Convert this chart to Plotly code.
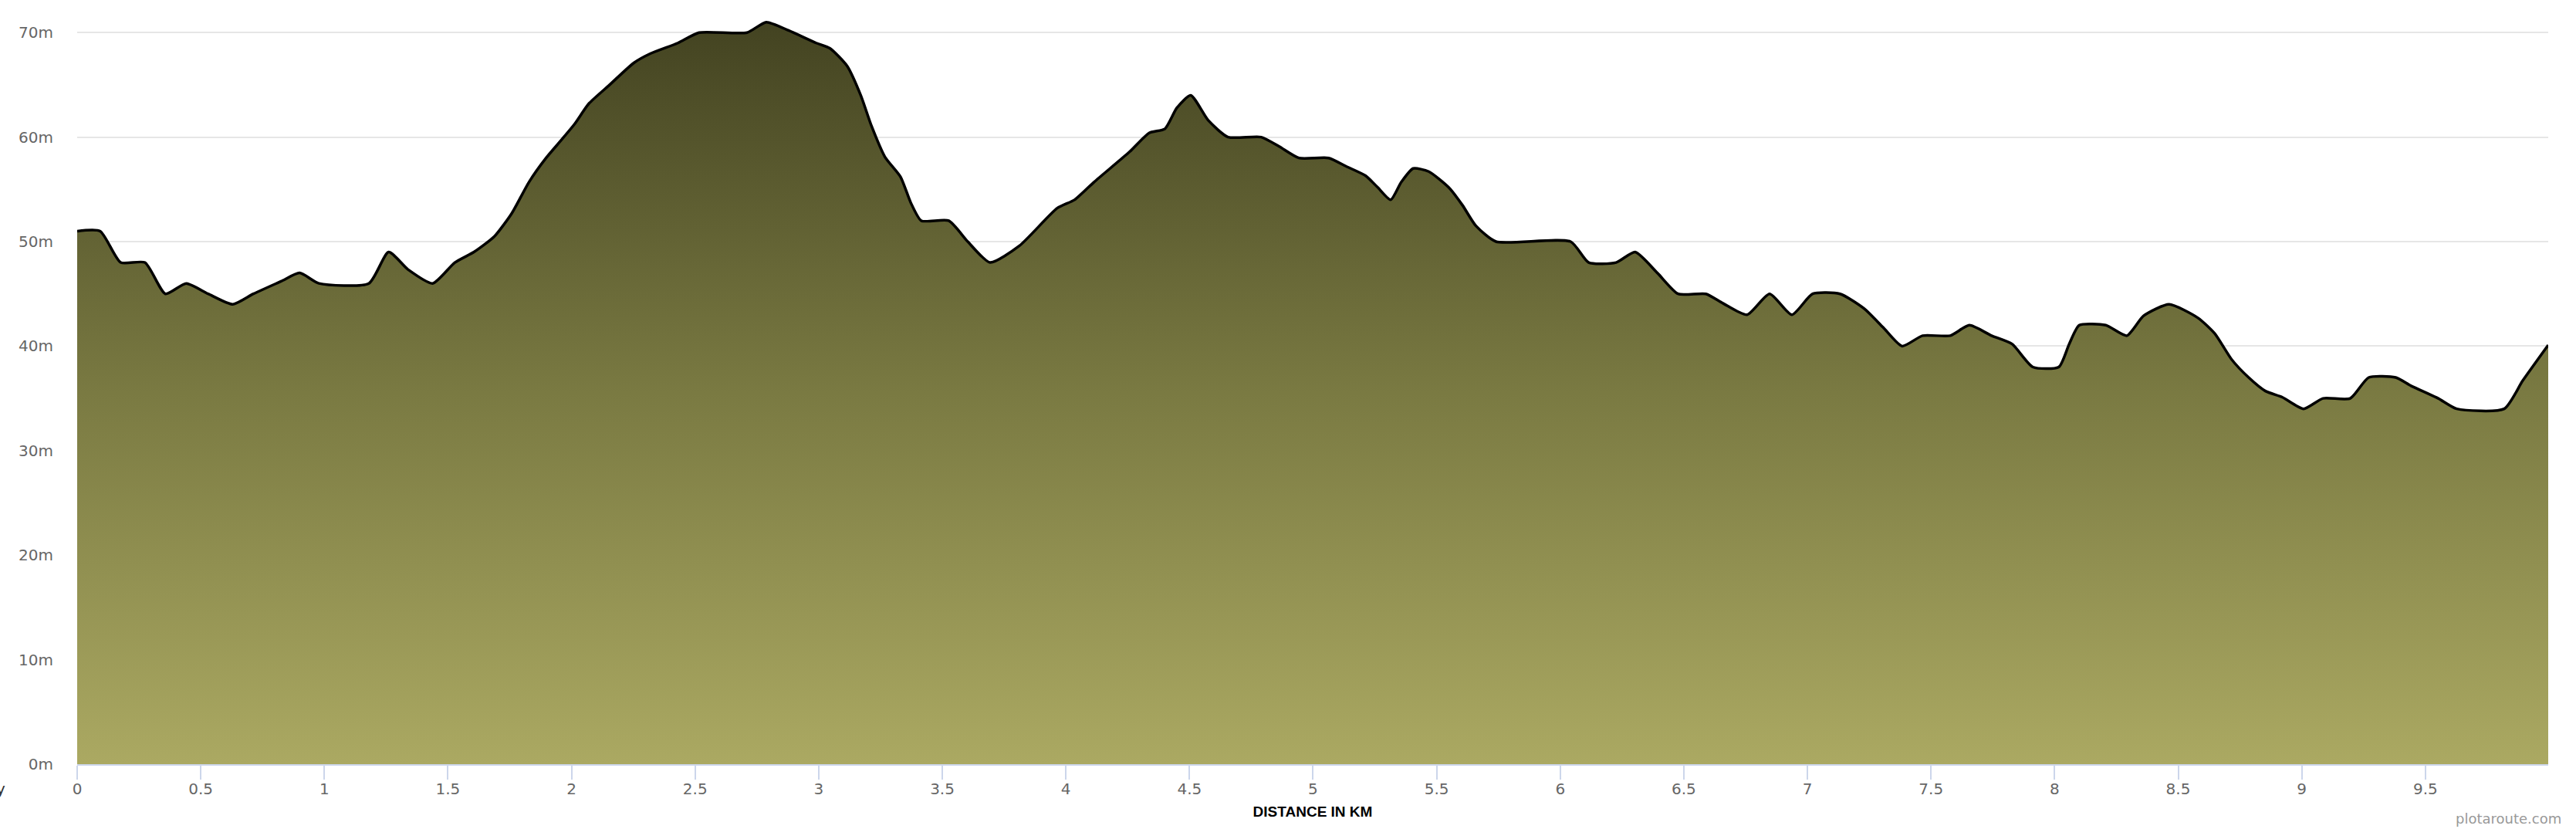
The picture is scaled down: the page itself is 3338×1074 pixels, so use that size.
import plotly.graph_objects as go

distance_km = [
    0.0, 0.093, 0.176, 0.274, 0.357, 0.441, 0.53, 0.63, 0.713, 0.825, 0.90, 0.978,
    1.18, 1.26, 1.34, 1.438, 1.528, 1.605, 1.688, 1.758, 1.828, 1.897, 1.958,
    2.014, 2.07, 2.154, 2.252, 2.32, 2.43, 2.516, 2.71, 2.788, 2.878, 2.99,
    3.045, 3.115, 3.17, 3.213, 3.268, 3.331, 3.373, 3.415, 3.526, 3.603, 3.693,
    3.812, 3.965, 4.035, 4.114, 4.258, 4.337, 4.401, 4.449, 4.505, 4.576, 4.656,
    4.79, 4.863, 4.943, 5.063, 5.134, 5.213, 5.261, 5.314, 5.357, 5.405, 5.468,
    5.548, 5.604, 5.659, 5.74, 6.042, 6.115, 6.226, 6.303, 6.393, 6.477, 6.589,
    6.658, 6.756, 6.847, 6.937, 7.021, 7.132, 7.229, 7.306, 7.383, 7.466, 7.578,
    7.655, 7.745, 7.828, 7.912, 8.017, 8.059, 8.1, 8.207, 8.292, 8.36, 8.463,
    8.58, 8.648, 8.717, 8.785, 8.853, 8.922, 9.007, 9.086, 9.196, 9.271, 9.38,
    9.442, 9.552, 9.627, 9.819, 9.894, 9.997,
]
elevation_m = [
    51, 51, 48, 48, 45, 46, 45, 44, 45, 46.2, 47, 46,
    46, 49, 47.3, 46, 48, 49, 50.5, 52.7, 55.7, 58, 59.7,
    61.3, 63.2, 65, 67.1, 68, 69, 70, 70, 71, 70.2, 69,
    68.5, 66.8, 64, 61.1, 58.1, 56.2, 53.7, 52, 52, 50, 48,
    49.6, 53.2, 54, 55.7, 58.6, 60.4, 60.8, 62.8, 64, 61.6, 60,
    60, 59.1, 58, 58, 57.2, 56.3, 55.2, 54, 55.7, 57, 56.7,
    55.2, 53.5, 51.5, 50, 50, 48, 48, 49, 47, 45, 45,
    44.1, 43, 45, 43, 45, 45, 43.6, 41.8, 40, 41, 41,
    42, 41, 40.2, 38, 38, 40.2, 42, 42, 41, 42.9, 44,
    42.7, 41.2, 38.7, 37, 35.7, 35.1, 34, 35, 35, 37, 37,
    36.2, 35, 34, 34, 36.7, 40.1,
]

y_tick_values = [0, 10, 20, 30, 40, 50, 60, 70]
y_tick_labels = ["0m", "10m", "20m", "30m", "40m", "50m", "60m", "70m"]
x_tick_values = [0, 0.5, 1, 1.5, 2, 2.5, 3, 3.5, 4, 4.5, 5, 5.5, 6, 6.5, 7, 7.5, 8, 8.5, 9, 9.5]
x_tick_labels = ["0", "0.5", "1", "1.5", "2", "2.5", "3", "3.5", "4", "4.5",
                 "5", "5.5", "6", "6.5", "7", "7.5", "8", "8.5", "9", "9.5"]

W, H = 3338, 1074
ML, MR, MT, MB = 100, 36, 20, 84
plot_h = H - MT - MB
plot_w = W - ML - MR
px_per_m = 13.54
y_top = plot_h / px_per_m


def paper_y(py):
    return (H - MB - py) / plot_h


fig = go.Figure()
fig.add_trace(go.Scatter(
    x=distance_km, y=elevation_m,
    mode="lines",
    line=dict(color="#000000", width=3.5, shape="spline", smoothing=0.6),
    fill="tozeroy",
    fillgradient=dict(
        type="vertical",
        colorscale=[[0, "#aba962"], [0.5, "#7a7a42"], [1, "#434321"]],
        start=0, stop=71,
    ),
    hoverinfo="skip",
    showlegend=False,
))

fig.update_layout(
    template="none",
    width=W, height=H,
    margin=dict(l=ML, r=MR, t=MT, b=MB, pad=0, autoexpand=False),
    paper_bgcolor="#ffffff",
    plot_bgcolor="#ffffff",
    font=dict(family="DejaVu Sans", size=20, color="#666666"),
    xaxis=dict(
        range=[0, distance_km[-1]],
        automargin=False,
        tickmode="array", tickvals=x_tick_values, ticktext=x_tick_labels,
        showgrid=False, zeroline=False,
        showline=True, linecolor="#ccd6eb", linewidth=2,
        ticks="outside", ticklen=18, tickwidth=2, tickcolor="#ccd6eb",
        ticklabelstandoff=-5,
        tickfont=dict(family="DejaVu Sans", size=20, color="#666666"),
        title=dict(text="DISTANCE IN KM",
                   font=dict(family="Liberation Sans", size=19, color="#000000", weight="bold"),
                   standoff=12),
        fixedrange=True,
    ),
    yaxis=dict(
        range=[0, y_top],
        automargin=False,
        tickmode="array", tickvals=y_tick_values, ticktext=y_tick_labels,
        showgrid=True, gridcolor="#e6e6e6", gridwidth=2,
        zeroline=False, showline=False, ticks="",
        ticklabelstandoff=30,
        tickfont=dict(family="DejaVu Sans", size=20, color="#666666"),
        fixedrange=True,
    ),
    annotations=[
        dict(text="plotaroute.com", xref="paper", yref="paper",
             x=1, y=paper_y(1060), xanchor="right", yanchor="middle",
             xshift=19, showarrow=False,
             font=dict(family="DejaVu Sans", size=18, color="#999999")),
        dict(text="y", xref="paper", yref="paper",
             x=(9 - ML) / plot_w, y=paper_y(1022),
             xanchor="right", yanchor="middle", showarrow=False,
             font=dict(family="DejaVu Sans", size=20, color="#333333")),
    ],
)

fig.write_html(
    "out.html",
    config={"displayModeBar": False},
    post_script="document.body.style.margin='0px';document.body.style.overflow='hidden';",
)
